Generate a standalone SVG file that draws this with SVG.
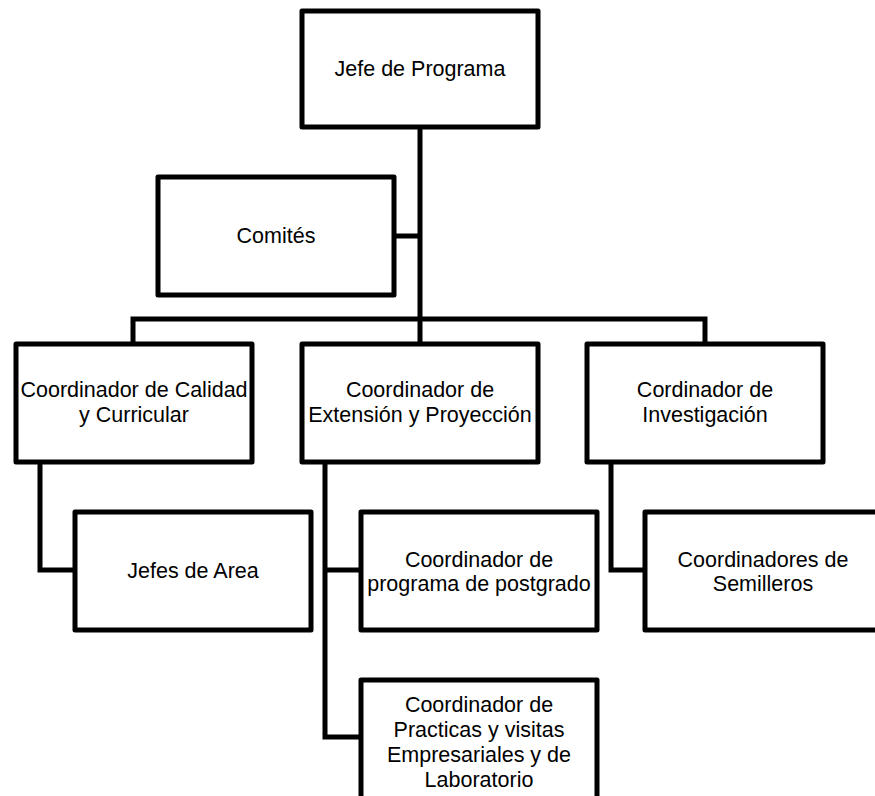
<svg xmlns="http://www.w3.org/2000/svg" width="875" height="796" viewBox="0 0 875 796">
<style>
.box{fill:#fff;stroke:#000;stroke-width:5;stroke-linejoin:round}
.con{fill:none;stroke:#000;stroke-width:5;stroke-linejoin:miter}
.t{font-family:"Liberation Sans",Arial,sans-serif;font-size:21.5px;fill:#000;text-anchor:middle}
</style>
<rect width="875" height="796" fill="#fff"/>
<g id="connectors">
<path class="con" d="M420 127V344"/>
<path class="con" d="M394 236H420"/>
<path class="con" d="M133 344V319H705V344"/>
<path class="con" d="M40 462V570H75"/>
<path class="con" d="M325 462V737H361M325 570H361"/>
<path class="con" d="M611 462V570H645"/>
</g>
<g id="jefe-programa"><rect class="box" x="302" y="11" width="236" height="116"/><text class="t" x="420" y="76">Jefe de Programa</text></g>
<g id="comites"><rect class="box" x="158" y="177" width="236" height="118"/><text class="t" x="276" y="243">Comités</text></g>
<g id="coord-calidad"><rect class="box" x="16" y="344" width="236" height="118"/><text class="t" x="134" y="397">Coordinador de Calidad</text><text class="t" x="134" y="422">y Curricular</text></g>
<g id="coord-extension"><rect class="box" x="302" y="344" width="236" height="118"/><text class="t" x="420" y="397">Coordinador de</text><text class="t" x="420" y="422">Extensión y Proyección</text></g>
<g id="coord-investigacion"><rect class="box" x="587" y="344" width="236" height="118"/><text class="t" x="705" y="397">Cordinador de</text><text class="t" x="705" y="422">Investigación</text></g>
<g id="jefes-area"><rect class="box" x="75" y="512" width="236" height="118"/><text class="t" x="193" y="578">Jefes de Area</text></g>
<g id="coord-postgrado"><rect class="box" x="361" y="512" width="236" height="118"/><text class="t" x="479" y="567">Coordinador de</text><text class="t" x="479" y="591">programa de postgrado</text></g>
<g id="coord-semilleros"><rect class="box" x="645" y="512" width="236" height="118"/><text class="t" x="763" y="567">Coordinadores de</text><text class="t" x="763" y="591">Semilleros</text></g>
<g id="coord-practicas"><rect class="box" x="361" y="680" width="236" height="130"/><text class="t" x="479" y="712">Coordinador de</text><text class="t" x="479" y="737">Practicas y visitas</text><text class="t" x="479" y="762">Empresariales y de</text><text class="t" x="479" y="787">Laboratorio</text></g>
</svg>
